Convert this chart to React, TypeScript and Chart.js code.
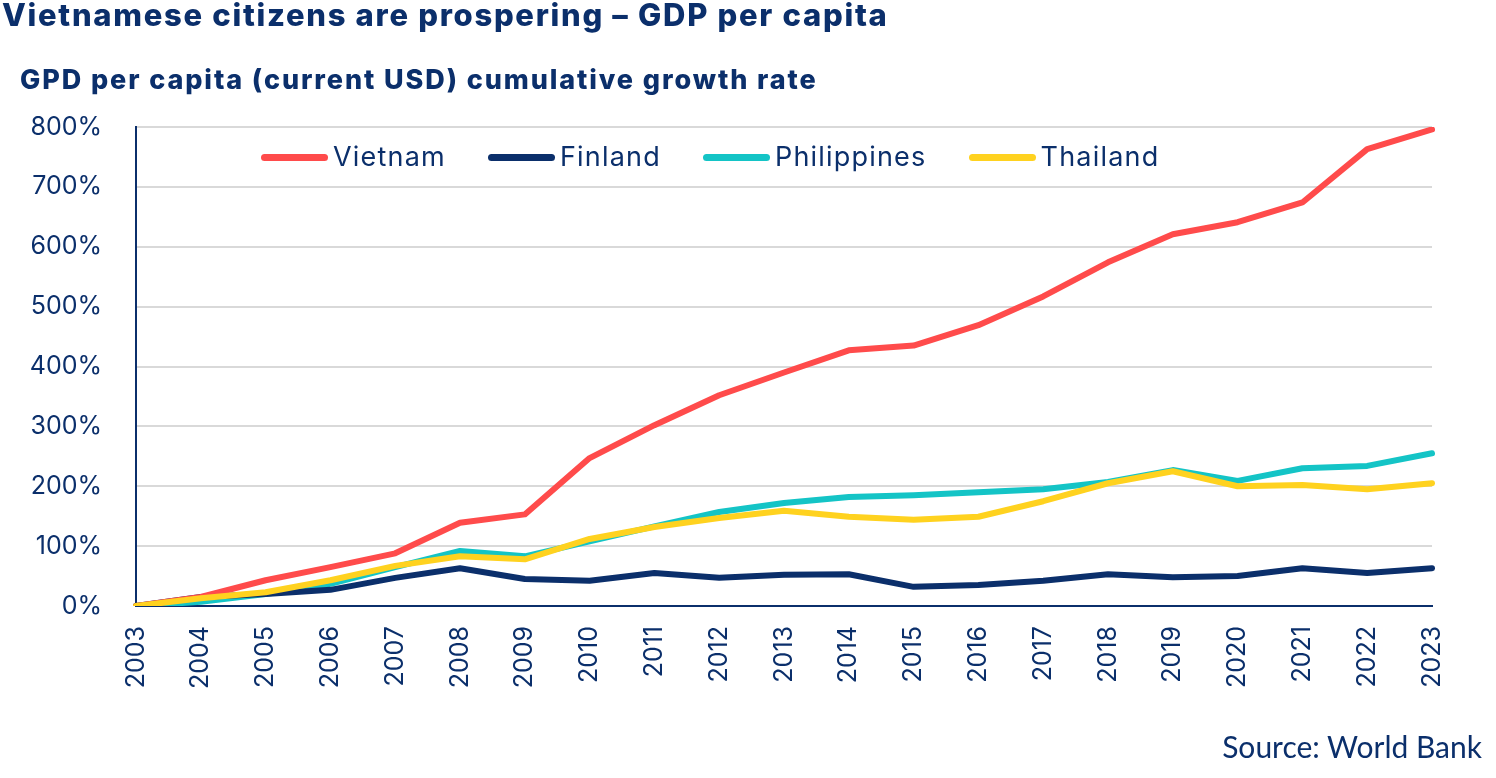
import React, { useEffect, useRef } from "react";
import { Chart, registerables } from "chart.js";

Chart.register(...registerables);

const years = ["2003","2004","2005","2006","2007","2008","2009","2010","2011","2012","2013","2014","2015","2016","2017","2018","2019","2020","2021","2022","2023"];
const vietnam = [0, 15, 43, 65, 88, 139, 153, 247, 302, 352, 390, 427, 435, 469, 517, 574, 621, 641, 674, 763, 796];
const finland = [0, 15, 20, 27, 47, 63, 45, 42, 55, 47, 52, 53, 32, 35, 42, 53, 48, 50, 63, 55, 63];
const philippines = [0, 7, 20, 37, 65, 92, 83, 108, 133, 157, 172, 182, 185, 190, 195, 207, 227, 209, 230, 234, 255];
const thailand = [0, 13, 23, 43, 67, 83, 78, 112, 132, 147, 159, 149, 144, 149, 175, 205, 225, 200, 202, 195, 205];
const yTicks = [0, 100, 200, 300, 400, 500, 600, 700, 800];

const seriesNames = ["Vietnam", "Finland", "Philippines", "Thailand"];
const seriesColors = ["#ff4b4b", "#0b2f6b", "#14c4c6", "#ffd21f"];
const seriesValues = [vietnam, finland, philippines, thailand];
const seriesOrder = [1, 2, 3, 0];

const NAVY = "#0b2f6b";
const FONT = "Inter, 'Open Sans', sans-serif";

export default function App() {
  const ref = useRef<HTMLCanvasElement | null>(null);

  useEffect(() => {
    document.body.style.margin = "0";
    const ctx = ref.current!;
    const chart = new Chart(ctx, {
      type: "line",
      data: {
        labels: years,
        datasets: seriesNames.map((n, i) => ({
          label: n,
          data: seriesValues[i],
          borderColor: seriesColors[i],
          backgroundColor: seriesColors[i],
          borderWidth: 6,
          pointRadius: 0,
          tension: 0,
          borderCapStyle: "round" as const,
          borderJoinStyle: "round" as const,
          order: seriesOrder[i],
        })),
      },
      options: {
        animation: false,
        responsive: false,
        maintainAspectRatio: false,
        layout: { padding: { top: 127, right: 64, left: 0, bottom: 0 } },
        plugins: {
          legend: { display: false },
          tooltip: { enabled: false },
        },
        scales: {
          x: {
            offset: false,
            grid: { display: false, drawTicks: false },
            border: { color: NAVY, width: 2 },
            ticks: {
              color: NAVY,
              font: { family: FONT, size: 25 },
              minRotation: 90,
              maxRotation: 90,
              padding: 20,
              autoSkip: false,
            },
            afterFit: (s: any) => { s.height = 778 - 606; },
          },
          y: {
            min: 0,
            max: 800,
            afterBuildTicks: (s: any) => { s.ticks = yTicks.map((v) => ({ value: v })); },
            grid: { color: "#d9d9d9", lineWidth: 2, drawTicks: false },
            border: { color: NAVY, width: 2 },
            ticks: {
              color: NAVY,
              font: { family: FONT, size: 25 },
              padding: 34,
              callback: (v: any) => v + "%",
            },
            afterFit: (s: any) => { s.width = 136; },
          },
        },
      },
    });
    return () => chart.destroy();
  }, []);

  return (
    <div style={{ position: "relative", width: 1496, height: 778, overflow: "hidden", background: "#fff", fontFamily: FONT, color: NAVY }}>
      <canvas ref={ref} width={1496} height={778} style={{ position: "absolute", left: 0, top: 0, width: 1496, height: 778 }} />
      <div style={{ position: "absolute", left: 2, top: -4, fontSize: 31, fontWeight: 800, letterSpacing: 1.7, whiteSpace: "nowrap" }}>
        Vietnamese citizens are prospering – GDP per capita
      </div>
      <div style={{ position: "absolute", left: 20, top: 63, fontSize: 27, fontWeight: 800, letterSpacing: 1.9, whiteSpace: "nowrap" }}>
        GPD per capita (current USD) cumulative growth rate
      </div>
      <div style={{ position: "absolute", left: 261, top: 140, display: "flex", alignItems: "center", gap: 42, whiteSpace: "nowrap" }}>
        {seriesNames.map((n, i) => (
          <div key={n} style={{ display: "flex", alignItems: "center", gap: 5 }}>
            <span style={{ display: "inline-block", width: 67, height: 7, borderRadius: 4, background: seriesColors[i] }} />
            <span style={{ fontSize: 27, lineHeight: "34px", letterSpacing: 1.2 }}>{n}</span>
          </div>
        ))}
      </div>
      <div style={{ position: "absolute", right: 14, top: 728, fontSize: 30, fontFamily: "Lato, 'Open Sans', sans-serif", whiteSpace: "nowrap" }}>
        Source: World Bank
      </div>
    </div>
  );
}
